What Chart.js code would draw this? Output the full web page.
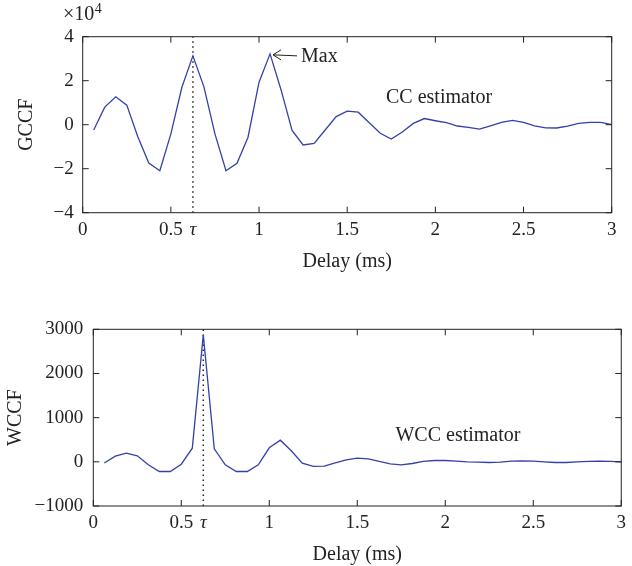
<!DOCTYPE html>
<html>
<head>
<meta charset="utf-8">
<script src="https://cdn.jsdelivr.net/npm/chart.js@4.4.0/dist/chart.umd.min.js"></script>
<style>
	body { margin: 0; background: #fff; }
	canvas { position: absolute; left: 0; }
	#gccf { top: 0; }
	#wccf { top: 283px; }
</style>
</head>
<body>
<canvas id="gccf" width="632" height="283"></canvas>
<canvas id="wccf" width="632" height="283"></canvas>
<script>

// delay samples (ms)
var delays = [0.0625, 0.125, 0.1875, 0.25, 0.3125, 0.375, 0.4375, 0.5,
	0.5625, 0.625, 0.6875, 0.75, 0.8125, 0.875, 0.9375, 1,
	1.0625, 1.125, 1.1875, 1.25, 1.3125, 1.375, 1.4375, 1.5,
	1.5625, 1.625, 1.6875, 1.75, 1.8125, 1.875, 1.9375, 2,
	2.0625, 2.125, 2.1875, 2.25, 2.3125, 2.375, 2.4375, 2.5,
	2.5625, 2.625, 2.6875, 2.75, 2.8125, 2.875, 2.9375, 3];

// CC estimator, in units of 10^4
var gccf = [-0.24, 0.80, 1.27, 0.89, -0.55, -1.74, -2.09, -0.42,
	1.70, 3.13, 1.72, -0.42, -2.09, -1.75, -0.57, 1.93,
	3.22, 1.58, -0.26, -0.92, -0.85, -0.24, 0.37, 0.62,
	0.57, 0.09, -0.39, -0.65, -0.33, 0.06, 0.28, 0.18,
	0.09, -0.06, -0.12, -0.20, -0.05, 0.11, 0.20, 0.11,
	-0.05, -0.14, -0.15, -0.06, 0.06, 0.11, 0.11, 0];

// WCC estimator
var wccf = [-25, 128, 196, 136, -68, -219, -219, -53,
	309, 2875, 294, -68, -219, -219, -68, 318,
	490, 250, -30, -105, -98, -23, 45, 83,
	68, 8, -45, -68, -38, 8, 30, 30,
	15, 0, -8, -15, -8, 15, 23, 15,
	0, -15, -15, 0, 8, 15, 8, 0];

var tau = 0.625;
var delayTicks = [0, 0.5, 1, 1.5, 2, 2.5, 3];
var gccfTicks = [-4, -2, 0, 2, 4];
var wccfTicks = [-1000, 0, 1000, 2000, 3000];

var serif = "'Liberation Serif', 'DejaVu Serif', serif";
var ink = '#222';
var lineColor = '#3441a8';

function minus(v) {
	return v < 0 ? '\u2212' + Math.abs(v) : String(v);
}

// box round the plot with MATLAB style inner ticks
var frame = {
	id: 'frame',
	afterDatasetsDraw: function(chart, args, opts) {
		var ctx = chart.ctx;
		var a = chart.chartArea;
		var xs = chart.scales.x, ys = chart.scales.y;
		ctx.save();
		ctx.strokeStyle = ink;
		ctx.lineWidth = 1;
		ctx.strokeRect(a.left, a.top, a.right - a.left, a.bottom - a.top);
		ctx.beginPath();
		delayTicks.forEach(function(v) {
			var px = xs.getPixelForValue(v);
			ctx.moveTo(px, a.bottom); ctx.lineTo(px, a.bottom - 6);
			ctx.moveTo(px, a.top); ctx.lineTo(px, a.top + 6);
		});
		opts.yTicks.forEach(function(v) {
			var py = ys.getPixelForValue(v);
			ctx.moveTo(a.left, py); ctx.lineTo(a.left + 6, py);
			ctx.moveTo(a.right, py); ctx.lineTo(a.right - 6, py);
		});
		ctx.stroke();

		// text notes inside the plot
		ctx.fillStyle = ink;
		ctx.font = '20px ' + serif;
		ctx.textBaseline = 'middle';
		ctx.textAlign = 'left';
		ctx.fillText(opts.note, xs.getPixelForValue(opts.noteAt[0]), ys.getPixelForValue(opts.noteAt[1]));

		if (opts.showMax) {
			var best = 0;
			for (var i = 0; i < gccf.length; i++) {
				if (gccf[i] > gccf[best]) best = i;
			}
			var tx = xs.getPixelForValue(delays[best]) + 3;
			var ty = ys.getPixelForValue(gccf[best]) + 1;
			ctx.beginPath();
			ctx.moveTo(tx, ty); ctx.lineTo(tx + 24, ty + 1);
			ctx.moveTo(tx + 8, ty - 5); ctx.lineTo(tx, ty); ctx.lineTo(tx + 8, ty + 5);
			ctx.stroke();
			ctx.fillText('Max', tx + 28, ty + 2);

			// exponent over the y axis
			ctx.font = '20px ' + serif;
			ctx.textBaseline = 'alphabetic';
			ctx.fillText('\u00d710', 63, 20);
			var w = ctx.measureText('\u00d710').width;
			ctx.font = '14px ' + serif;
			ctx.fillText('4', 63 + w + 0.5, 13);
		}
		ctx.restore();
	}
};

function makeChart(id, values, yTicks, yTitle, o) {
	var ctx = document.getElementById(id).getContext('2d');
	var yMin = yTicks[0], yMax = yTicks[yTicks.length - 1];

	return new Chart(ctx, {
		type: 'line',
		data: {
			datasets: [{
				data: delays.map(function(d, i) { return {x: d, y: values[i]}; }),
				borderColor: lineColor,
				borderWidth: 1.3,
				pointRadius: 0,
				tension: 0
			}, {
				data: [{x: tau, y: yMin}, {x: tau, y: yMax}],
				borderColor: ink,
				borderWidth: 1.5,
				borderDash: [1.5, 3.5],
				pointRadius: 0
			}]
		},
		options: {
			responsive: false,
			animation: false,
			layout: { padding: { top: o.top, right: o.right, left: 0, bottom: 0 } },
			plugins: {
				legend: { display: false },
				tooltip: { enabled: false },
				frame: { yTicks: yTicks, note: o.note, noteAt: o.noteAt, showMax: o.showMax }
			},
			scales: {
				x: {
					type: 'linear',
					min: 0,
					max: 3,
					afterBuildTicks: function(s) {
						s.ticks = delayTicks.slice(0, 2).concat([tau], delayTicks.slice(2))
							.map(function(v) { return {value: v}; });
					},
					afterFit: function(s) { s.height = o.xHeight; },
					grid: { display: false, drawTicks: false },
					border: { display: false },
					ticks: {
						autoSkip: false,
						maxRotation: 0,
						padding: 6,
						color: ink,
						font: function(c) {
							if (c.tick && c.tick.value === tau) return {family: serif, size: 19, style: 'italic'};
							return {family: serif, size: 19};
						},
						callback: function(v) { return v === tau ? '\u03c4' : String(v); }
					},
					title: {
						display: true,
						text: 'Delay (ms)',
						color: ink,
						font: {family: serif, size: 20, lineHeight: 1},
						padding: {top: 0, bottom: o.xTitlePad}
					}
				},
				y: {
					min: yMin,
					max: yMax,
					afterBuildTicks: function(s) {
						s.ticks = yTicks.map(function(v) { return {value: v}; });
					},
					afterFit: function(s) { s.width = o.yWidth; },
					grid: { display: false, drawTicks: false },
					border: { display: false },
					ticks: {
						padding: o.yTickPad,
						color: ink,
						font: {family: serif, size: 19},
						callback: minus
					},
					title: {
						display: true,
						text: yTitle,
						color: ink,
						font: {family: serif, size: 20, lineHeight: 1},
						padding: {top: o.yTitlePad, bottom: 0}
					}
				}
			}
		},
		plugins: [frame]
	});
}

makeChart('gccf', gccf, gccfTicks, 'GCCF', {
	top: 36.7, right: 20.3, yWidth: 82.7, xHeight: 70.3,
	xTitlePad: 11, yTitlePad: 16.7, yTickPad: 9,
	note: 'CC estimator', noteAt: [1.72, 1.21], showMax: true
});

makeChart('wccf', wccf, wccfTicks, 'WCCF', {
	top: 46.3, right: 9.7, yWidth: 93.3, xHeight: 60,
	xTitlePad: 1, yTitlePad: 5.5, yTickPad: 10,
	note: 'WCC estimator', noteAt: [1.717, 588], showMax: false
});

</script>
</body>
</html>
